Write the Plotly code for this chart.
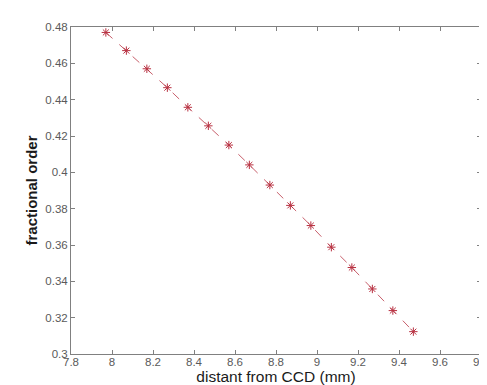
import plotly.graph_objects as go

distance_mm = [7.97, 8.07, 8.17, 8.27, 8.37, 8.47, 8.57, 8.67, 8.77, 8.87, 8.97, 9.07, 9.17, 9.27, 9.37, 9.47]
fractional_order = [0.477, 0.467, 0.457, 0.4466, 0.4358, 0.4256, 0.415, 0.4041, 0.393, 0.3818, 0.3707, 0.3588, 0.3476, 0.3358, 0.3239, 0.3123]

x_ticks = [7.8, 8, 8.2, 8.4, 8.6, 8.8, 9, 9.2, 9.4, 9.6, 9.8]
x_tick_labels = ["7.8", "8", "8.2", "8.4", "8.6", "8.8", "9", "9.2", "9.4", "9.6", "9.8"]
y_ticks = [0.3, 0.32, 0.34, 0.36, 0.38, 0.4, 0.42, 0.44, 0.46, 0.48]
y_tick_labels = ["0.3", "0.32", "0.34", "0.36", "0.38", "0.4", "0.42", "0.44", "0.46", "0.48"]

line_color = "#c8606c"
marker_color = "#b83040"

fig = go.Figure()
fig.add_trace(go.Scatter(
    x=distance_mm, y=fractional_order, mode="lines",
    line=dict(color=line_color, width=1, dash="dash"),
    showlegend=False,
))
fig.add_trace(go.Scatter(
    x=distance_mm, y=fractional_order, mode="markers",
    marker=dict(symbol="asterisk-open", size=7, color=marker_color, line=dict(color=marker_color, width=1)),
    showlegend=False,
))

axis_common = dict(
    showgrid=False, zeroline=False, showline=True, linecolor="#808080", linewidth=1,
    mirror="ticks", ticks="inside", ticklen=4, tickcolor="#808080",
    ticklabeloverflow="allow",
    tickfont=dict(family="Arial, Liberation Sans, sans-serif", size=11.5, color="#5a5a5a"),
)

fig.update_layout(
    width=487, height=385,
    margin=dict(l=63, r=6, t=19, b=39),
    paper_bgcolor="white", plot_bgcolor="white",
    xaxis=dict(range=[7.8, 9.8], tickvals=x_ticks, ticktext=x_tick_labels,
               ticklabelstandoff=-3,
               title=dict(text="distant from CCD (mm)", standoff=0,
                          font=dict(family="Arial, Liberation Sans, sans-serif", size=15.5, color="#1a1a1a")),
               **axis_common),
    yaxis=dict(range=[0.3, 0.48], tickvals=y_ticks, ticktext=y_tick_labels,
               title=dict(text="<b>fractional order</b>", standoff=4,
                          font=dict(family="Arial, Liberation Sans, sans-serif", size=15, color="#1a1a1a")),
               **axis_common),
)

fig.write_html("out.html")
